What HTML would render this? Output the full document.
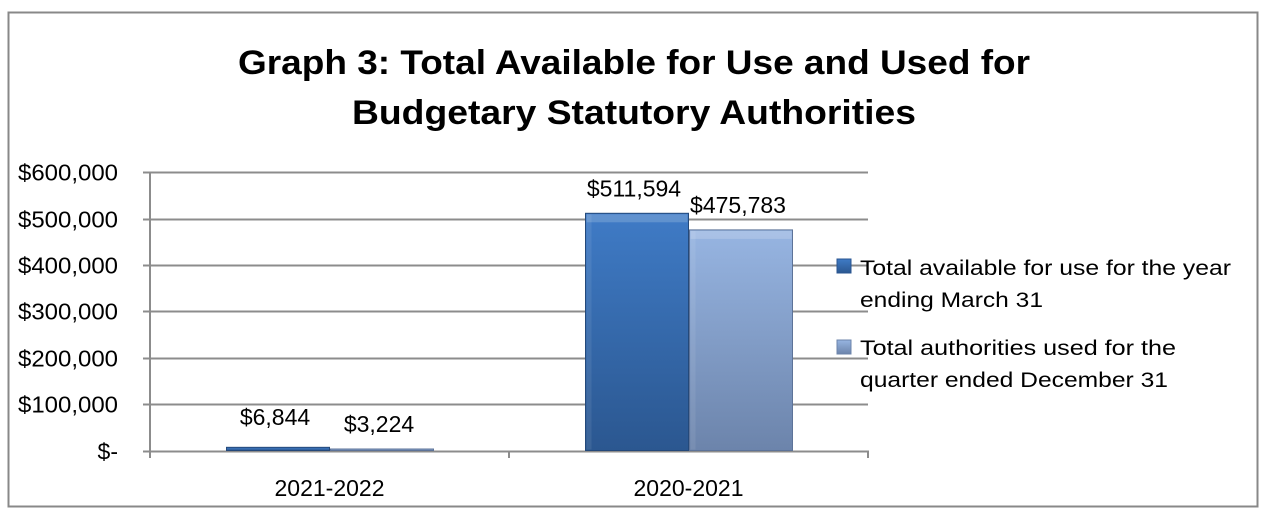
<!DOCTYPE html>
<html><head><meta charset="utf-8"><style>
html,body{margin:0;padding:0;background:#fff;}
svg{display:block;font-family:"Liberation Sans",sans-serif;}
</style></head><body>
<svg id="chart" width="1266" height="514" viewBox="0 0 1266 514">
<defs>
<linearGradient id="gA" x1="0" y1="0" x2="0" y2="1"><stop offset="0" stop-color="#3f7bc6"/><stop offset="1" stop-color="#2b5790"/></linearGradient>
<linearGradient id="gB" x1="0" y1="0" x2="0" y2="1"><stop offset="0" stop-color="#97b5e2"/><stop offset="1" stop-color="#6c84ab"/></linearGradient>
</defs>
<rect x="8.5" y="12.5" width="1249" height="494" fill="#fff" stroke="#888" stroke-width="2"/>
<text x="634" y="74" text-anchor="middle" font-size="34" font-weight="bold" textLength="792" lengthAdjust="spacingAndGlyphs">Graph 3: Total Available for Use and Used for</text>
<text x="634" y="124" text-anchor="middle" font-size="34" font-weight="bold" textLength="564" lengthAdjust="spacingAndGlyphs">Budgetary Statutory Authorities</text>
<g id="grid"></g><g id="bars"></g><g id="labels"></g>
<g>
<rect x="837" y="259" width="14" height="14" fill="url(#gA)" stroke="#2a5590"/>
<text x="860" y="275" font-size="21"><tspan x="860" textLength="371" lengthAdjust="spacingAndGlyphs">Total available for use for the year</tspan><tspan x="860" dy="32" textLength="183" lengthAdjust="spacingAndGlyphs">ending March 31</tspan></text>
<rect x="837" y="340" width="14" height="14" fill="url(#gB)" stroke="#6c84ab"/>
<text x="860" y="355" font-size="21"><tspan x="860" textLength="316" lengthAdjust="spacingAndGlyphs">Total authorities used for the</tspan><tspan x="860" dy="32" textLength="308" lengthAdjust="spacingAndGlyphs">quarter ended December 31</tspan></text>
</g>
</svg>
<script>
const categories = ["2021-2022", "2020-2021"];
const availableValues = [6844, 511594];
const usedValues = [3224, 475783];
const yTickValues = [0, 100000, 200000, 300000, 400000, 500000, 600000];
const yTickLabels = ["$-", "$100,000", "$200,000", "$300,000", "$400,000", "$500,000", "$600,000"];
const valueLabelsAvailable = ["$6,844", "$511,594"];
const valueLabelsUsed = ["$3,224", "$475,783"];

const NS = "http://www.w3.org/2000/svg";
const X0 = 150, X1 = 868, Y0 = 450.5, YTOP = 172.3, YMAX = 600000;
const y = v => Y0 - (v / YMAX) * (Y0 - YTOP);
const catW = (X1 - X0) / categories.length;
const barW = 103;
function mk(tag, attrs, parent, text) {
  const el = document.createElementNS(NS, tag);
  for (const k in attrs) el.setAttribute(k, attrs[k]);
  if (text !== undefined) el.textContent = text;
  parent.appendChild(el);
  return el;
}
const grid = document.getElementById('grid'), bars = document.getElementById('bars'), labels = document.getElementById('labels');
yTickValues.forEach((v, i) => {
  const yy = Math.round(y(v)) + 0.5;
  const ln = mk('line', {x1: 143, x2: X1, y1: yy, y2: yy, stroke: '#8c8c8c', 'stroke-width': 2}, grid);
  
  
  const attrs = {x: 118, y: yy + 8, 'text-anchor': 'end', 'font-size': 23};
  if (yTickLabels[i].length > 3) { attrs.textLength = 100; attrs.lengthAdjust = 'spacingAndGlyphs'; }
  const t = mk('text', attrs, labels, yTickLabels[i]);
  
  
});
const ax = mk('line', {x1: X0, x2: X0, y1: YTOP, y2: 458, stroke: '#8c8c8c', 'stroke-width': 2}, grid);


for (let i = 1; i <= categories.length; i++) {
  const tx = X0 + catW * i;
  const tk = mk('line', {x1: tx, x2: tx, y1: Y0, y2: 458, stroke: '#8c8c8c', 'stroke-width': 2}, grid);
  
  
}
categories.forEach((c, i) => {
  const cx = X0 + catW * (i + 0.5);
  const t = mk('text', {x: cx, y: 496, 'text-anchor': 'middle', 'font-size': 23}, labels, c);
  
  
  [[availableValues[i], 'url(#gA)', '#24497a', valueLabelsAvailable[i], 'bar-available'],
   [usedValues[i], 'url(#gB)', '#5d7398', valueLabelsUsed[i], 'bar-used']].forEach((s, j) => {
    const bx = cx - barW + j * (barW + 1);
    const top = y(s[0]);
    const r = mk('rect', {x: bx, y: top, width: barW, height: Math.max(Y0 - top, 1), fill: s[1], stroke: s[2], 'stroke-width': 1}, bars);
    
    
    if (Y0 - top > 20) {
      const hl = mk('rect', {x: bx + 1, y: top + 1, width: barW - 2, height: 8, fill: '#fff', opacity: 0.18}, bars);
      
      
      const hs = mk('rect', {x: bx + 1, y: top + 1, width: 5, height: Y0 - top - 2, fill: '#fff', opacity: 0.08}, bars);
      
      
    }
    const ly = Math.min(top - 17, 425 + j * 8);
    const vl = mk('text', {x: bx + barW / 2 - 3, y: ly, 'text-anchor': 'middle', 'font-size': 23}, labels, s[3]);
    
    
  });
});
</script>
</body></html>
